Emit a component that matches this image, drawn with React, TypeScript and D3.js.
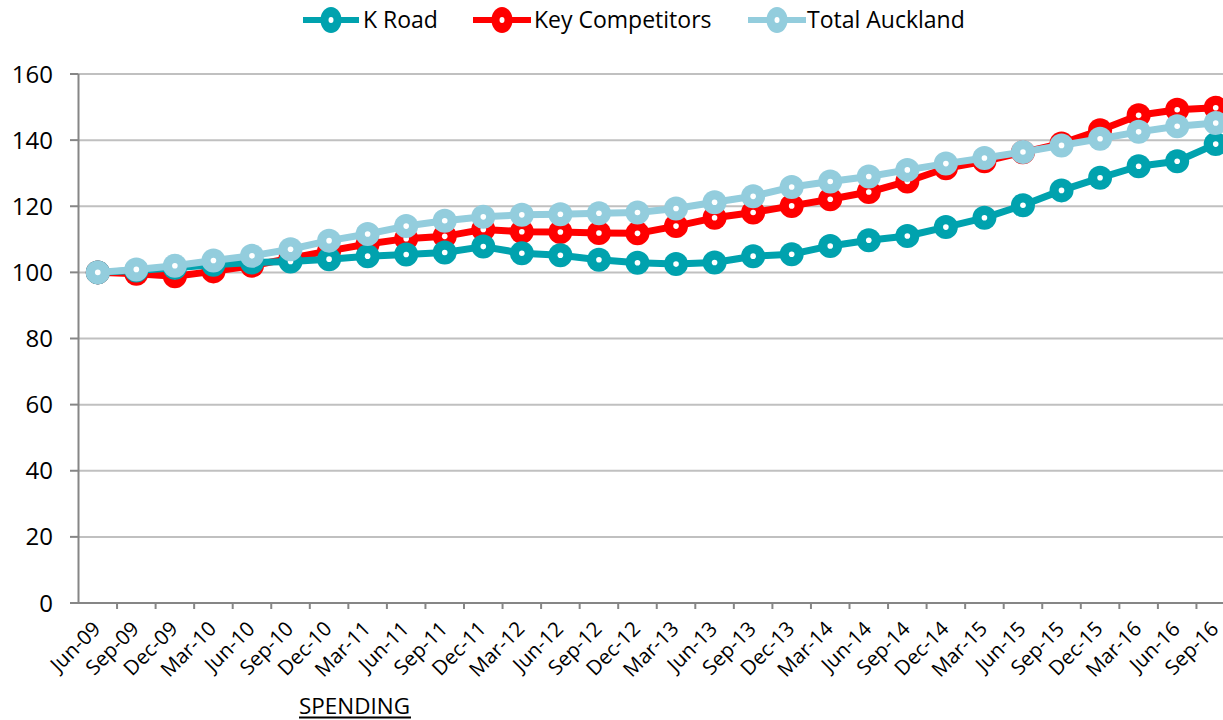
import React from "react";
import * as d3 from "d3";

const categories = [
  "Jun-09", "Sep-09", "Dec-09", "Mar-10", "Jun-10", "Sep-10", "Dec-10", "Mar-11", "Jun-11", "Sep-11",
  "Dec-11", "Mar-12", "Jun-12", "Sep-12", "Dec-12", "Mar-13", "Jun-13", "Sep-13", "Dec-13", "Mar-14",
  "Jun-14", "Sep-14", "Dec-14", "Mar-15", "Jun-15", "Sep-15", "Dec-15", "Mar-16", "Jun-16", "Sep-16",
];

const kRoad = [
  100, 100.6, 101.4, 102.3, 103, 103.3, 104, 104.9, 105.4, 106,
  107.8, 105.8, 105.2, 103.8, 102.9, 102.5, 103, 104.9, 105.5, 108,
  109.7, 111, 113.7, 116.5, 120.3, 124.8, 128.6, 132.1, 133.6, 138.8,
];

const keyCompetitors = [
  100, 99.6, 98.8, 100.3, 102, 104.3, 106.5, 108.6, 110.2, 110.9,
  113, 112.3, 112.2, 111.9, 111.8, 114, 116.5, 118.1, 120.1, 122.1,
  124.3, 127.5, 131.5, 133.6, 136.3, 139, 143, 147.5, 149.2, 149.8,
];

const totalAuckland = [
  100, 100.9, 102, 103.6, 105, 107, 109.6, 111.6, 114, 115.6,
  116.8, 117.4, 117.6, 117.9, 118.1, 119.3, 121.2, 123, 125.8, 127.5,
  129, 131, 132.9, 134.6, 136.4, 138.4, 140.4, 142.5, 144.2, 145.2,
];

const yTicks = [0, 20, 40, 60, 80, 100, 120, 140, 160];

const seriesNames = ["K Road", "Key Competitors", "Total Auckland"];
const seriesColors = ["#00A2AE", "#FF0000", "#93CDDD"];

const FONT = "'Open Sans', 'DejaVu Sans', sans-serif";

export default function App() {
  const W = 1223;
  const H = 720;
  const left = 78.5;
  const band = 38.55;
  const x = d3.scaleBand<string>().domain(categories).range([left, left + band * categories.length]);
  const y = d3.scaleLinear().domain([0, 160]).range([603, 74]);
  const cx = (c: string) => (x(c) as number) + x.bandwidth() / 2;

  const line = d3
    .line<number>()
    .x((_, i) => cx(categories[i]))
    .y((d) => y(d));

  const data = [kRoad, keyCompetitors, totalAuckland];
  const drawOrder = [1, 0, 2];

  const legendItems = [
    { lineX0: 303, lineX1: 359, textX: 363 },
    { lineX0: 473, lineX1: 531, textX: 534 },
    { lineX0: 748, lineX1: 806, textX: 807 },
  ];

  const tickPositions = categories.map((c) => x(c) as number);

  return (
    <svg
      width={W}
      height={H}
      style={{ position: "absolute", left: 0, top: 0, background: "#fff", overflow: "hidden" }}
      fontFamily={FONT}
    >
      {/* gridlines */}
      {yTicks.filter((t) => t > 0).map((t) => (
        <line key={"g" + t} x1={left} x2={W + 20} y1={y(t)} y2={y(t)} stroke="#C0C0C0" strokeWidth={2} />
      ))}
      {/* y axis */}
      <line x1={left} x2={left} y1={y(160)} y2={y(0)} stroke="#868686" strokeWidth={2} />
      {yTicks.map((t) => (
        <g key={"yt" + t}>
          <line x1={70} x2={left} y1={y(t)} y2={y(t)} stroke="#868686" strokeWidth={2} />
          <text x={53} y={y(t) + 8.5} textAnchor="end" fontSize={24} fill="#000">
            {t}
          </text>
        </g>
      ))}
      {/* x axis */}
      <line x1={70} x2={W + 20} y1={y(0)} y2={y(0)} stroke="#868686" strokeWidth={2} />
      {tickPositions.slice(1).concat([left + band * categories.length]).map((p, i) => (
        <line key={"xt" + i} x1={p} x2={p} y1={y(0)} y2={y(0) + 6} stroke="#868686" strokeWidth={2} />
      ))}
      {categories.map((c) => (
        <text
          key={"xl" + c}
          transform={`translate(${cx(c) - 1},${625}) rotate(-45)`}
          textAnchor="end"
          dy="0.35em"
          fontSize={20.5}
          fill="#000"
        >
          {c}
        </text>
      ))}

      {/* series */}
      {drawOrder.map((si) => (
        <g key={"s" + si}>
          <path d={line(data[si]) || ""} fill="none" stroke={seriesColors[si]} strokeWidth={7} strokeLinejoin="round" />
          {data[si].map((v, i) => (
            <g key={i}>
              <circle cx={cx(categories[i])} cy={y(v)} r={12} fill={seriesColors[si]} />
              <circle cx={cx(categories[i])} cy={y(v)} r={2.8} fill="#fff" />
            </g>
          ))}
        </g>
      ))}

      {/* legend */}
      {seriesNames.map((n, i) => {
        const it = legendItems[i];
        const mx = (it.lineX0 + it.lineX1) / 2;
        return (
          <g key={"lg" + i}>
            <line x1={it.lineX0} x2={it.lineX1} y1={20} y2={20} stroke={seriesColors[i]} strokeWidth={6} />
            <ellipse cx={mx} cy={20} rx={10.5} ry={13} fill={seriesColors[i]} />
            <ellipse cx={mx} cy={20} rx={2.5} ry={3} fill="#fff" />
            <text x={it.textX} y={27.5} fontSize={23} fill="#000">
              {n}
            </text>
          </g>
        );
      })}

      {/* footer label */}
      <text x={299} y={714} fontSize={21.5} fill="#000" textLength={111} lengthAdjust="spacingAndGlyphs">
        SPENDING
      </text>
      <line x1={299} x2={411} y1={717.5} y2={717.5} stroke="#000" strokeWidth={1.8} />
    </svg>
  );
}
